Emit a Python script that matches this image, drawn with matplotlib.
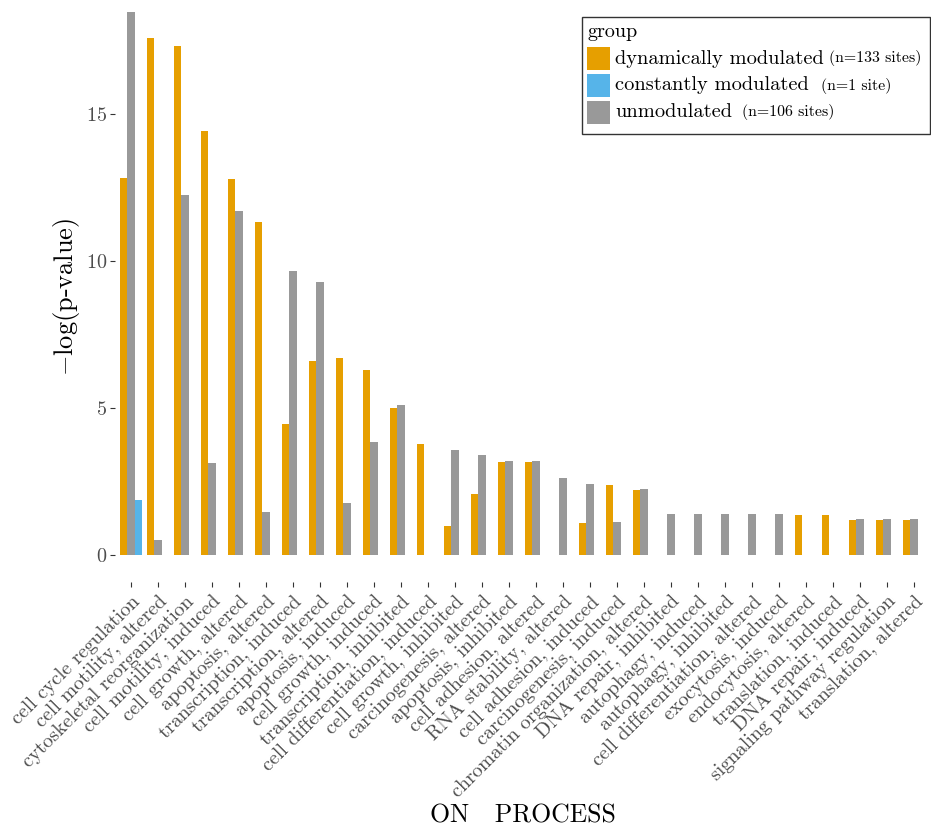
import matplotlib
matplotlib.use("Agg")
import matplotlib.pyplot as plt
import numpy as np
from matplotlib.patches import Rectangle

plt.rcParams['font.family'] = 'cmr10'
plt.rcParams['mathtext.fontset'] = 'cm'
plt.rcParams['axes.formatter.use_mathtext'] = True

# categories (x axis)
processes = ['cell cycle regulation', 'cell motility, altered',
             'cytoskeletal reorganization', 'cell motility, induced',
             'cell growth, altered', 'apoptosis, altered',
             'transcription, induced', 'transcription, altered',
             'apoptosis, induced', 'cell growth, induced',
             'transcription, inhibited', 'cell differentiation, induced',
             'cell growth, inhibited', 'carcinogenesis, altered',
             'apoptosis, inhibited', 'cell adhesion, altered',
             'RNA stability, altered', 'cell adhesion, induced',
             'carcinogenesis, induced', 'chromatin organization, altered',
             'DNA repair, inhibited', 'autophagy, induced',
             'autophagy, inhibited', 'cell differentiation, altered',
             'exocytosis, induced', 'endocytosis, altered',
             'translation, induced', 'DNA repair, induced',
             'signaling pathway regulation', 'translation, altered']

# -log(p-value) per group
dynamic = [12.83, 17.57, 17.32, 14.41, 12.80, 11.33, 4.46, 6.59, 6.71, 6.30,
           5.01, 3.76, 0.99, 2.07, 3.15, 3.15, 0, 1.08, 2.36, 2.19,
           0, 0, 0, 0, 0, 1.37, 1.37, 1.20, 1.20, 1.20]
constant = [1.85] + [0] * 29
unmodulated = [18.48, 0.50, 12.23, 3.12, 11.70, 1.47, 9.65, 9.27, 1.76, 3.85,
               5.09, 0, 3.57, 3.38, 3.20, 3.20, 2.61, 2.40, 1.10, 2.23,
               1.40, 1.40, 1.40, 1.40, 1.40, 0, 0, 1.22, 1.22, 1.22]

groups = ['dynamically modulated', 'constantly modulated', 'unmodulated']
group_n = ['(n=133 sites)', '(n=1 site)', '(n=106 sites)']
colors = ['#E69F00', '#56B4E9', '#999999']

W, H = 931, 827
fig = plt.figure(figsize=(W / 100, H / 100), dpi=100)

# panel in pixel coords (from top-left)
left, right, top, bottom = 114.8, 930.2, 11, 582
ax = fig.add_axes([left / W, 1 - bottom / H, (right - left) / W, (bottom - top) / H])

x = np.arange(len(processes))
w = 0.8 / 3
ax.bar(x - w, dynamic, width=w, color=colors[0], linewidth=0)
ax.bar(x, unmodulated, width=w, color=colors[2], linewidth=0)
ax.bar(x + w, constant, width=w, color=colors[1], linewidth=0)

ax.set_xlim(-0.6, len(processes) - 0.4)
ax.set_ylim(-0.925, 18.5)
ax.set_yticks([0, 5, 10, 15])
ax.set_xticks(x)
ax.set_xticklabels(processes, rotation=45, ha='right', va='top',
                   rotation_mode='anchor')
for s in ax.spines.values():
    s.set_visible(False)
ax.tick_params(axis='both', length=3.5, width=0.8, color='#333333',
               labelcolor='#4D4D4D', labelsize=14.5, pad=2)
ax.tick_params(axis='x', pad=4)

ax.set_ylabel(r'$-$log(p-value)', fontsize=19, labelpad=3)
ax.set_xlabel('ON   PROCESS', fontsize=18.5, labelpad=2)


def fpx(px, py):
    return px / W, 1 - py / H


# legend drawn in figure pixel coords
bx, by, bw, bh = 582, 17, 348, 117
fig.patches.append(Rectangle(fpx(bx, by + bh), bw / W, bh / H,
                             transform=fig.transFigure, fill=False,
                             edgecolor='#333333', linewidth=1))
fig.text(*fpx(587, 32), 'group', fontsize=14.5, va='center', ha='left')
gaps = [5, 12, 10]
fig.canvas.draw()
renderer = fig.canvas.get_renderer()
for i, (g, n, c) in enumerate(zip(groups, group_n, colors)):
    ky = 47 + 27 * i
    fig.patches.append(Rectangle(fpx(587, ky + 23), 23 / W, 23 / H,
                                 transform=fig.transFigure, facecolor=c,
                                 edgecolor='none'))
    t = fig.text(*fpx(615, ky + 11.5), g, fontsize=14.7, va='center', ha='left')
    ext = t.get_window_extent(renderer)
    fig.text(*fpx(ext.x1 + gaps[i], ky + 11.5), n, fontsize=11.4,
             va='center', ha='left')

fig.savefig('out.png', dpi=100)
